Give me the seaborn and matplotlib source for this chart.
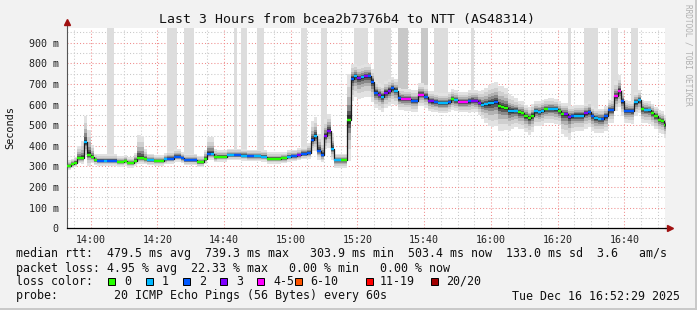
import numpy as np
import pandas as pd
import matplotlib
matplotlib.use("Agg")
import matplotlib.pyplot as plt
from matplotlib.patches import Rectangle
import seaborn as sns

# ---------------- data ----------------
# one value per minute, first minute starts 7 minutes before 14:00
median_ms = [
    304, 312, 318, 341, 341, 417, 357, 345, 332, 328,
    328, 328, 328, 328, 328, 323, 323, 328, 318, 318,
    328, 341, 341, 335, 332, 332, 328, 328, 328, 335,
    338, 338, 348, 348, 340, 332, 332, 332, 332, 322,
    322, 337, 361, 361, 345, 348, 348, 348, 356, 356,
    356, 356, 353, 353, 351, 351, 351, 351, 348, 348,
    338, 338, 338, 338, 341, 341, 348, 351, 351, 354,
    361, 361, 367, 428, 448, 377, 356, 448, 474, 387,
    332, 332, 332, 332, 527, 725, 738, 728, 733, 738,
    739, 711, 658, 648, 639, 658, 668, 679, 668, 630,
    628, 626, 626, 619, 619, 648, 648, 638, 617, 615,
    612, 607, 607, 607, 613, 625, 620, 612, 612, 612,
    615, 619, 617, 608, 600, 602, 606, 609, 614, 592,
    590, 585, 570, 570, 570, 562, 560, 545, 534, 547,
    568, 565, 571, 579, 580, 580, 577, 569, 555, 555,
    540, 545, 547, 547, 547, 558, 565, 545, 533, 531,
    531, 543, 573, 573, 640, 667, 615, 571, 569, 568,
    611, 622, 578, 574, 572, 560, 545, 527, 522, 503,
]
# loss colour category per minute (0=0, 1=1, 2=2, 3=3, 4='4-5')
loss_cat = [
    0, 0, 0, 0, 0, 1, 0, 0, 0, 2,
    2, 1, 2, 2, 2, 0, 0, 0, 0, 0,
    0, 0, 0, 0, 1, 1, 0, 0, 0, 1,
    2, 2, 2, 2, 2, 2, 2, 2, 2, 0,
    0, 0, 2, 1, 0, 0, 0, 0, 1, 1,
    2, 2, 1, 1, 2, 2, 1, 1, 1, 1,
    0, 0, 0, 0, 0, 0, 1, 2, 2, 3,
    2, 2, 2, 2, 1, 2, 2, 3, 3, 1,
    1, 1, 0, 0, 0, 2, 1, 3, 1, 3,
    2, 2, 2, 3, 1, 3, 3, 2, 1, 2,
    4, 4, 4, 2, 2, 4, 4, 2, 3, 3,
    2, 1, 1, 1, 2, 0, 1, 4, 4, 4,
    2, 3, 3, 3, 1, 1, 1, 1, 2, 0,
    0, 0, 1, 1, 1, 0, 0, 0, 0, 0,
    1, 1, 1, 0, 1, 1, 1, 0, 0, 3,
    3, 2, 1, 1, 1, 3, 2, 2, 1, 1,
    2, 2, 2, 2, 4, 4, 2, 2, 2, 2,
    1, 1, 0, 1, 1, 0, 0, 0, 0, 0,
]
# outer smoke extent above / below the median (ms)
smoke_up = [
    25, 25, 30, 60, 80, 130, 120, 60, 30, 30,
    30, 30, 30, 30, 30, 28, 28, 28, 28, 28,
    35, 110, 105, 50, 30, 30, 28, 28, 28, 30,
    35, 35, 35, 35, 30, 30, 30, 30, 30, 30,
    30, 45, 80, 80, 40, 30, 30, 30, 30, 30,
    30, 30, 30, 30, 30, 30, 30, 30, 30, 30,
    30, 30, 30, 30, 30, 30, 30, 30, 30, 35,
    35, 35, 45, 90, 90, 80, 70, 80, 80, 75,
    30, 30, 30, 30, 220, 70, 60, 60, 60, 60,
    60, 60, 55, 55, 55, 55, 55, 55, 55, 50,
    50, 50, 50, 50, 50, 55, 55, 55, 50, 50,
    50, 50, 50, 50, 50, 50, 50, 50, 50, 50,
    55, 55, 55, 60, 70, 80, 90, 95, 95, 100,
    100, 95, 80, 70, 60, 55, 55, 55, 55, 55,
    50, 50, 50, 50, 50, 50, 50, 50, 55, 55,
    55, 50, 50, 50, 50, 50, 50, 50, 50, 50,
    50, 50, 50, 60, 75, 75, 55, 50, 50, 50,
    50, 50, 45, 45, 45, 45, 45, 45, 45, 45,
]
smoke_dn = [
    20, 20, 20, 25, 30, 60, 55, 30, 25, 25,
    25, 25, 25, 25, 25, 25, 25, 25, 25, 25,
    25, 30, 30, 25, 25, 25, 25, 25, 25, 25,
    25, 25, 25, 25, 25, 25, 25, 25, 25, 25,
    25, 25, 30, 30, 25, 25, 25, 25, 25, 25,
    25, 25, 25, 25, 25, 25, 25, 25, 25, 25,
    25, 25, 25, 25, 25, 25, 25, 25, 25, 25,
    25, 25, 30, 55, 75, 45, 35, 65, 85, 55,
    40, 40, 40, 40, 200, 110, 100, 100, 100, 100,
    100, 100, 75, 75, 75, 75, 75, 75, 70, 55,
    55, 55, 55, 55, 55, 55, 55, 55, 50, 50,
    50, 50, 50, 50, 50, 50, 50, 50, 50, 50,
    55, 55, 55, 60, 70, 90, 110, 120, 120, 120,
    120, 110, 100, 90, 80, 80, 80, 80, 80, 80,
    70, 70, 70, 70, 70, 70, 70, 70, 100, 110,
    110, 80, 75, 75, 75, 75, 75, 75, 70, 70,
    70, 70, 60, 60, 70, 80, 70, 60, 60, 60,
    65, 65, 65, 65, 65, 65, 65, 65, 65, 65,
]
# minutes in which one / several pings were above the top of the chart
top_out1 = [12, 13, 30, 31, 32, 35, 36, 37, 50, 52, 53, 57, 58, 70, 71, 76, 77,
            86, 87, 88, 89, 92, 93, 94, 95, 96, 99, 100, 101, 106, 107,
            110, 111, 112, 113, 121, 150, 155, 156, 157, 158, 163, 164, 169, 170]
top_out2 = [99, 100, 101, 106, 107]

x_tick_labels = ["14:00", "14:20", "14:40", "15:00", "15:20", "15:40", "16:00", "16:20", "16:40"]
y_tick_labels = ["0", "100 m", "200 m", "300 m", "400 m", "500 m", "600 m", "700 m", "800 m", "900 m"]
loss_labels = ["0", "1", "2", "3", "4-5", "6-10", "11-19", "20/20"]
loss_colors = ["#26ff00", "#00b8ff", "#0059ff", "#7e00ff", "#ff00ff", "#ff5500", "#ff0000", "#a10000"]

title = "Last 3 Hours from bcea2b7376b4 to NTT (AS48314)"
stat_lines = [
    "median rtt:  479.5 ms avg  739.3 ms max   303.9 ms min  503.4 ms now  133.0 ms sd  3.6   am/s",
    "packet loss: 4.95 % avg  22.33 % max   0.00 % min   0.00 % now",
]
probe_line = "probe:        20 ICMP Echo Pings (56 Bytes) every 60s"
date_text = "Tue Dec 16 16:52:29 2025"

# ---------------- figure ----------------
sns.set_theme(style="white")
plt.rcParams["font.family"] = ["DejaVu Sans Mono", "DejaVu Sans"]

W, H = 697, 310
BG = "#f2f2f2"
fig = plt.figure(figsize=(W / 100, H / 100), dpi=100, facecolor=BG)
ax = fig.add_axes([67 / W, (H - 228.3) / H, 598 / W, 200 / H])
ax.set_facecolor("white")

n = len(median_ms)
t0 = -7.0
df = pd.DataFrame({
    "t": t0 + np.arange(n),
    "med": median_ms,
    "up": smoke_up,
    "dn": smoke_dn,
    "loss": loss_cat,
})
t_ext = np.append(df["t"].values, df["t"].values[-1] + 1)

def ext(a):
    a = np.asarray(a, dtype=float)
    return np.append(a, a[-1])

med = df["med"].values.astype(float)

# outliers above chart
ytop = 970
for mins, col in ((top_out1, "#dddddd"), (top_out2, "#c8c8c8")):
    tt = t0 + np.array(mins)
    mm = np.array([median_ms[i] for i in mins])
    ax.bar(tt, 2000 - mm, bottom=mm, width=1.0, align="edge", color=col, linewidth=0, zorder=1)

# smoke bands (outer light -> inner dark)
bands = [(1.0, "#e2e2e2"), (0.72, "#cfcfcf"), (0.5, "#b2b2b2"), (0.33, "#8a8a8a"),
         (0.2, "#5a5a5a"), (0.1, "#2e2e2e")]
for frac, col in bands:
    lo = med - df["dn"].values * frac
    hi = med + df["up"].values * frac
    ax.fill_between(t_ext, ext(lo), ext(hi), step="post", color=col, linewidth=0, zorder=2)

# median step line (connectors)
sns.lineplot(x=t_ext, y=ext(med), drawstyle="steps-post", color="#1a1a1a", linewidth=0.9,
             estimator=None, ax=ax, zorder=3)
# coloured median segments by loss
ax.hlines(df["med"], df["t"], df["t"] + 1, colors=[loss_colors[c] for c in df["loss"]],
          linewidth=1.7, zorder=4)

# axes limits / ticks
ax.set_xlim(-7.1, 172.2)
ax.set_ylim(0, ytop)
ax.set_xticks(np.arange(0, 161, 20))
ax.set_xticklabels(x_tick_labels)
ax.set_xticks(np.arange(-5, 172, 5), minor=True)
ax.set_yticks(np.arange(0, 901, 100))
ax.set_yticklabels(y_tick_labels)
ax.set_yticks(np.arange(50, 970, 50), minor=True)
ax.set_xlabel("")
ax.set_ylabel("")

ax.grid(which="minor", color="#c8c8c8", linestyle=(0, (1, 2)), linewidth=0.75, zorder=0)
ax.grid(which="major", color="#f08c8c", linestyle=(0, (1, 2)), linewidth=0.75, zorder=0)
ax.set_axisbelow(True)

ax.tick_params(axis="both", which="major", labelsize=7.2, colors="#000000", length=2, width=0.7, pad=4)
ax.tick_params(axis="both", which="minor", length=0)
ax.tick_params(axis="x", which="major", pad=3, direction="out", color="#800000")
for lab in ax.get_xticklabels() + ax.get_yticklabels():
    lab.set_color("#222222")

for s in ("top", "right"):
    ax.spines[s].set_visible(False)
ax.spines["left"].set_color("#555555")
ax.spines["left"].set_linewidth(0.8)
ax.spines["bottom"].set_color("#000000")
ax.spines["bottom"].set_linewidth(0.9)

# axis extensions + arrows
ax.plot([0, 0], [1, 1.03], transform=ax.transAxes, color="#555555", lw=0.8, clip_on=False)
ax.plot([1, 1.008], [0, 0], transform=ax.transAxes, color="#000000", lw=0.9, clip_on=False)
ax.plot([0], [1.03], transform=ax.transAxes, marker="^", ms=4.5, color="#a01010", clip_on=False)
ax.plot([1.008], [0], transform=ax.transAxes, marker=">", ms=4.5, color="#a01010", clip_on=False)

# texts
def fx(x):
    return x / W

def fy(y):
    return 1 - y / H

fig.text(fx(347), fy(19), title, ha="center", va="center", fontsize=9.5, color="#111111")
fig.text(fx(10), fy(128), "Seconds", rotation=90, ha="center", va="center", fontsize=7.4, color="#111111")
fig.text(fx(688), fy(4), "RRDTOOL / TOBI OETIKER", rotation=270, ha="center", va="top",
         fontsize=5.6, color="#b0b0b0")

fs = 8.4
fig.text(fx(16), fy(254), stat_lines[0], ha="left", va="center", fontsize=fs, color="#111111")
fig.text(fx(16), fy(268.3), stat_lines[1], ha="left", va="center", fontsize=fs, color="#111111")
fig.text(fx(16), fy(281.5), "loss color:", ha="left", va="center", fontsize=fs, color="#111111")
box_x = [108, 145.7, 182.7, 220, 257.3, 295, 365.7, 430.7]
lab_x = [124, 161.7, 199, 236, 273.3, 310.7, 380, 445.7]
for bx, lx, col, lab in zip(box_x, lab_x, loss_colors, loss_labels):
    fig.add_artist(Rectangle((fx(bx), fy(285)), 7 / W, 7 / H, transform=fig.transFigure,
                             facecolor=col, edgecolor="#000000", linewidth=0.7))
    fig.text(fx(lx), fy(281.5), lab, ha="left", va="center", fontsize=fs, color="#111111")
fig.text(fx(16), fy(296), probe_line, ha="left", va="center", fontsize=fs, color="#111111")
fig.text(fx(680), fy(296), date_text, ha="right", va="center", fontsize=fs, color="#111111")

# frame of the canvas
fig.add_artist(plt.Line2D([fx(696), fx(696)], [0, 1], transform=fig.transFigure, color="#c8c8c8", lw=1.4))
fig.add_artist(plt.Line2D([0, 1], [fy(309), fy(309)], transform=fig.transFigure, color="#c8c8c8", lw=1.4))

fig.savefig("out.png", dpi=100, facecolor=BG)
